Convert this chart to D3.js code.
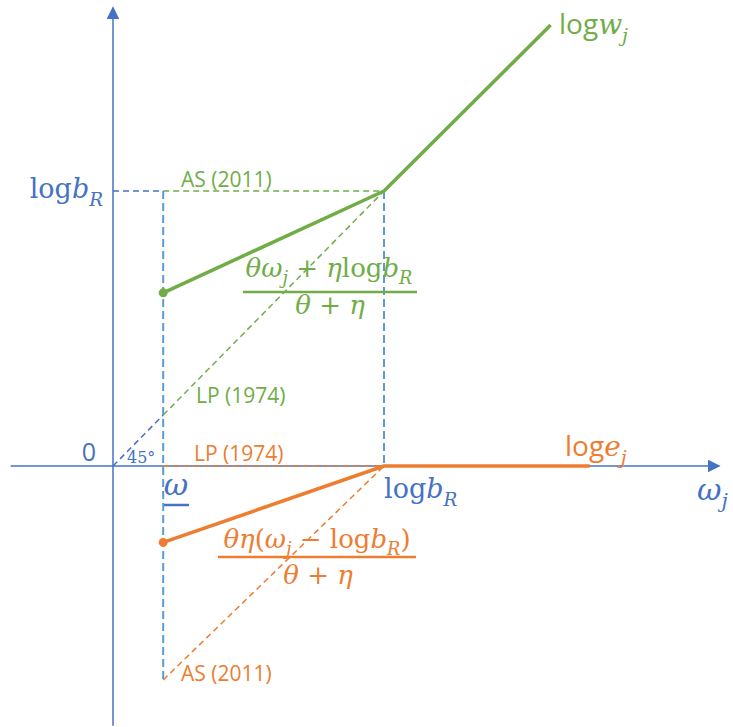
<!DOCTYPE html>
<html><head><meta charset="utf-8">
<script src="https://cdn.jsdelivr.net/npm/d3@7"></script>
<style>html,body{margin:0;padding:0;background:#fff;}svg{display:block;}</style>
</head><body>
<svg id="c" width="733" height="727"></svg>
<script>
// ---- data (in model units) ----
const logbR = 2.7;          // log b_R
const omegaBar = 0.5;       // lower bound ω
const logwX = [0.5, 2.7, 4.36];
const logwY = [1.70, 2.7, 4.33];
const logeX = [0.5, 2.7, 4.75];
const logeY = [-0.75, 0, 0];
const asOrangeY = -2.1;     // AS (2011) lower end for log e
const xAxisRange = [-1.02, 6.04];
const yAxisRange = [-2.55, 4.5];

const BLUE = "#4472C4", LBLUE = "#5B9BD5", GREEN = "#70AD47", ORANGE = "#ED7D31";
const svg = d3.select("#c");
const x = d3.scaleLinear().domain([0, logbR]).range([113, 384]);
const y = d3.scaleLinear().domain([0, logbR]).range([466, 191]);

const defs = svg.append("defs");
defs.append("marker").attr("id","arr").attr("viewBox","0 0 10 10").attr("refX",9).attr("refY",5)
  .attr("markerWidth",13).attr("markerHeight",13).attr("markerUnits","userSpaceOnUse").attr("orient","auto")
  .append("path").attr("d","M0,0L10,5L0,10Z").attr("fill",BLUE);

const line = d3.line().x(d=>x(d[0])).y(d=>y(d[1]));
function seg(pts, color, w, dash){
  return svg.append("path").attr("d", line(pts)).attr("fill","none").attr("stroke",color)
    .attr("stroke-width",w).attr("stroke-dasharray",dash||null);
}

// axes
seg([[xAxisRange[0],0],[xAxisRange[1],0]], BLUE, 1.5).attr("marker-end","url(#arr)");
seg([[0,yAxisRange[0]],[0,yAxisRange[1]]], BLUE, 1.5).attr("marker-end","url(#arr)");

// dashed guides
seg([[0,logbR],[omegaBar,logbR]], BLUE, 1.5, "6,4");
seg([[omegaBar,logbR],[logbR,logbR]], GREEN, 1.5, "6,4");
seg([[omegaBar,logbR],[omegaBar,asOrangeY]], LBLUE, 2, "8,4");
seg([[logbR,logbR],[logbR,0]], LBLUE, 2, "8,4");
seg([[0,0],[omegaBar,omegaBar]], BLUE, 1.5, "6,4");
seg([[omegaBar,omegaBar],[logbR,logbR]], GREEN, 1.5, "6,4");
seg([[omegaBar,0],[logbR,0]], ORANGE, 1.5, "6,4");
seg([[omegaBar,asOrangeY],[logbR,0]], ORANGE, 1.5, "6,4");

// main lines
seg(d3.zip(logwX, logwY), GREEN, 3.5).attr("stroke-linejoin","round");
seg(d3.zip(logeX, logeY), ORANGE, 3.5).attr("stroke-linejoin","round");
svg.append("circle").attr("cx",x(logwX[0])).attr("cy",y(logwY[0])).attr("r",4.5).attr("fill",GREEN);
svg.append("circle").attr("cx",x(logeX[0])).attr("cy",y(logeY[0])).attr("r",4.5).attr("fill",ORANGE);

// text helpers
const SERIF = "'DejaVu Serif', serif", SANS = "'Open Sans', Lato, sans-serif";
function mtext(px, py, parts, o){
  const t = svg.append("text").attr("x",px).attr("y",py).attr("fill",o.color)
    .attr("font-family",o.family||SERIF).attr("font-size",o.size).attr("text-anchor",o.anchor||"start");
  let sub = false;
  parts.forEach(p=>{
    const s = t.append("tspan").text(p.t);
    if (p.i) s.attr("font-style","italic").attr("font-family",SERIF);
    if (p.sub && !sub){ s.attr("dy", o.size*0.28).attr("font-size", o.size*0.68); sub = true; }
    else if (p.sub) s.attr("font-size", o.size*0.68);
    else if (!p.sub && sub){ s.attr("dy", -o.size*0.28); sub = false; }
  });
  return t;
}

// labels
mtext(103, 198, [{t:"log"},{t:"b",i:true},{t:"R",i:true,sub:true}], {color:BLUE,size:27,anchor:"end"});
mtext(559, 34, [{t:"log"},{t:"w",i:true},{t:"j",i:true,sub:true}], {color:GREEN,size:28,family:SANS});
mtext(565, 456, [{t:"log"},{t:"e",i:true},{t:"j",i:true,sub:true}], {color:ORANGE,size:28,family:SANS});
mtext(384, 498, [{t:"log"},{t:"b",i:true},{t:"R",i:true,sub:true}], {color:BLUE,size:27});
mtext(697, 500, [{t:"ω",i:true},{t:"j",i:true,sub:true}], {color:BLUE,size:30});
mtext(96, 461, [{t:"0"}], {color:BLUE,size:25,family:SANS,anchor:"end"});
mtext(127, 463, [{t:"45°"}], {color:BLUE,size:16});
mtext(176, 495, [{t:"ω",i:true}], {color:BLUE,size:30,anchor:"middle"});
svg.append("line").attr("x1",164).attr("x2",189).attr("y1",505).attr("y2",505).attr("stroke",BLUE).attr("stroke-width",2.5);

mtext(181, 187, [{t:"AS (2011)"}], {color:GREEN,size:21,family:SANS});
mtext(196, 403, [{t:"LP (1974)"}], {color:GREEN,size:21,family:SANS});
mtext(194, 461, [{t:"LP (1974)"}], {color:ORANGE,size:21,family:SANS});
mtext(181, 681, [{t:"AS (2011)"}], {color:ORANGE,size:21,family:SANS});

// fractions
mtext(329, 277, [{t:"θω",i:true},{t:"j",i:true,sub:true},{t:" + "},{t:"η",i:true},{t:"log"},{t:"b",i:true},{t:"R",i:true,sub:true}], {color:GREEN,size:26,anchor:"middle"});
svg.append("line").attr("x1",243).attr("x2",417).attr("y1",292).attr("y2",292).attr("stroke",GREEN).attr("stroke-width",2.5);
mtext(330, 314, [{t:"θ",i:true},{t:" + "},{t:"η",i:true}], {color:GREEN,size:26,anchor:"middle"});

mtext(317, 548, [{t:"θη",i:true},{t:"("},{t:"ω",i:true},{t:"j",i:true,sub:true},{t:" − "},{t:"log"},{t:"b",i:true},{t:"R",i:true,sub:true},{t:")"}], {color:ORANGE,size:26,anchor:"middle"});
svg.append("line").attr("x1",218).attr("x2",416).attr("y1",557).attr("y2",557).attr("stroke",ORANGE).attr("stroke-width",2.5);
mtext(318, 584, [{t:"θ",i:true},{t:" + "},{t:"η",i:true}], {color:ORANGE,size:26,anchor:"middle"});
</script>
</body></html>
